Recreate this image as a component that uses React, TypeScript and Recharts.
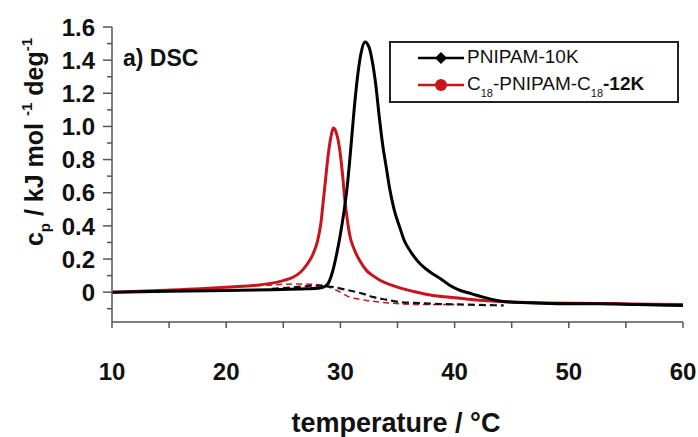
import React from 'react';
import { LineChart, Line, XAxis, YAxis, Legend } from 'recharts';

// PNIPAM-10K (solid black)
const blackT = [10, 15, 20, 24, 27, 28.2, 28.5, 28.9, 29.3, 29.7, 30.0, 30.3, 30.6, 30.9, 31.2, 31.5, 31.8, 32.15, 32.5, 32.8, 33.1, 33.4, 33.7, 34.0, 34.3, 34.7, 35.2, 35.6, 36.1, 36.5, 37.0, 37.5, 38.1, 38.8, 39.6, 40.5, 41.5, 42.5, 43.7, 44.9, 47, 50, 52.7, 56, 60];
const blackV = [0, 0.005, 0.01, 0.015, 0.02, 0.025, 0.03, 0.05, 0.12, 0.24, 0.35, 0.48, 0.64, 0.86, 1.1, 1.3, 1.44, 1.51, 1.48, 1.39, 1.25, 1.06, 0.89, 0.76, 0.63, 0.5, 0.39, 0.31, 0.25, 0.21, 0.17, 0.14, 0.11, 0.08, 0.04, 0.01, -0.01, -0.03, -0.05, -0.06, -0.065, -0.07, -0.07, -0.075, -0.08];

// C18-PNIPAM-C18-12K (solid red)
const redT = [10, 14, 17.7, 20, 23.6, 25, 25.85, 26.5, 27.1, 27.6, 28.0, 28.3, 28.5, 28.7, 28.9, 29.15, 29.4, 29.65, 29.96, 30.2, 30.4, 30.6, 30.8, 31.2, 31.7, 32.3, 32.85, 33.5, 34.6, 35.5, 36.7, 38.1, 39.6, 42.5, 45, 48, 54.2, 60];
const redV = [0, 0.01, 0.02, 0.03, 0.05, 0.07, 0.09, 0.12, 0.17, 0.23, 0.31, 0.42, 0.55, 0.68, 0.81, 0.93, 0.99, 0.96, 0.85, 0.7, 0.55, 0.44, 0.35, 0.26, 0.19, 0.13, 0.1, 0.07, 0.04, 0.02, 0.0, -0.02, -0.03, -0.05, -0.06, -0.065, -0.07, -0.075];

// baselines (dashed)
const blackBaseT = [24, 26, 28.0, 29.4, 30.8, 32.0, 32.9, 34, 35.2, 36.5, 38.1, 41, 44.3];
const blackBaseV = [0.02, 0.03, 0.04, 0.03, 0.01, -0.01, -0.03, -0.045, -0.06, -0.065, -0.07, -0.075, -0.08];
const redBaseT = [20, 23, 26.3, 28, 29, 30, 30.8, 31.5, 32.3, 33.5, 35.2, 37, 40];
const redBaseV = [0.03, 0.04, 0.05, 0.045, 0.03, 0.0, -0.03, -0.04, -0.05, -0.06, -0.07, -0.075, -0.075];

const xTicks = [10, 15, 20, 25, 30, 35, 40, 45, 50, 55, 60];
const yTicks = [-0.1, 0, 0.1, 0.2, 0.3, 0.4, 0.5, 0.6, 0.7, 0.8, 0.9, 1.0, 1.1, 1.2, 1.3, 1.4, 1.5, 1.6];

const zip = (t: number[], v: number[]) => t.map((x, i) => ({ t: x, v: v[i] }));
const blackData = zip(blackT, blackV);
const redData = zip(redT, redV);
const blackBase = zip(blackBaseT, blackBaseV);
const redBase = zip(redBaseT, redBaseV);

const FONT = '"Liberation Sans", Arial, Helvetica, sans-serif';
const AXIS = '#555';
const RED = '#c8141b';

const XTick = (props: any) => {
  const { x, y, payload } = props;
  const v = payload.value;
  const major = Math.round(v) % 10 === 0;
  return (
    <g>
      <line x1={x} x2={x} y1={y} y2={y + 6} stroke={AXIS} strokeWidth={1.5} />
      {major && (
        <text x={x} y={380} textAnchor="middle" fontFamily={FONT} fontWeight="bold" fontSize={24} fill="#111">
          {v}
        </text>
      )}
    </g>
  );
};

const YTick = (props: any) => {
  const { x, y, payload } = props;
  const v = payload.value;
  const k = Math.round(v * 10);
  const major = k >= 0 && k % 2 === 0;
  const label = k === 0 ? '0' : v.toFixed(1);
  return (
    <g>
      <line x1={x} x2={x - (major ? 9 : 5)} y1={y} y2={y} stroke={AXIS} strokeWidth={1.5} />
      {major && (
        <text x={x - 17} y={y} dy="0.36em" textAnchor="end" fontFamily={FONT} fontWeight="bold" fontSize={24} fill="#111">
          {label}
        </text>
      )}
    </g>
  );
};

const LegendBox = () => (
  <div
    style={{
      width: 290,
      height: 62,
      border: '2px solid #222',
      background: '#fff',
      boxSizing: 'border-box',
      position: 'relative',
      fontFamily: FONT,
      color: '#111',
    }}
  >
    <svg width={80} height={62} style={{ position: 'absolute', left: 0, top: 0 }}>
      <line x1={27} x2={73} y1={15} y2={15} stroke="#000" strokeWidth={2.5} />
      <path d="M50 9 L56 15 L50 21 L44 15 Z" fill="#000" />
      <line x1={27} x2={73} y1={42} y2={42} stroke={RED} strokeWidth={2.5} />
      <circle cx={50} cy={42} r={6} fill={RED} />
    </svg>
    <div style={{ position: 'absolute', left: 76, top: 3, fontSize: 19, lineHeight: '22px', whiteSpace: 'nowrap' }}>
      PNIPAM-10K
    </div>
    <div style={{ position: 'absolute', left: 76, top: 30, fontSize: 19, lineHeight: '22px', whiteSpace: 'nowrap' }}>
      C<sub style={{ fontSize: 11, verticalAlign: -7 }}>18</sub>-PNIPAM-C
      <sub style={{ fontSize: 11, verticalAlign: -7 }}>18</sub>
      <b>-12K</b>
    </div>
  </div>
);

export default function App() {
  return (
    <div style={{ position: 'absolute', left: 0, top: 0, background: '#fff' }}>
      <LineChart width={698} height={437} margin={{ top: 27, right: 15, left: 52, bottom: 55 }}>
        <XAxis
          dataKey="t"
          type="number"
          domain={[10, 60]}
          ticks={xTicks}
          allowDataOverflow
          height={60}
          tickSize={0}
          tickMargin={0}
          tickLine={false}
          tick={<XTick />}
          axisLine={{ stroke: AXIS, strokeWidth: 1.5 }}
          interval={0}
        />
        <XAxis xAxisId="top" orientation="top" dataKey="t" type="number" domain={[10, 60]} height={0} tick={false} tickLine={false} axisLine={{ stroke: AXIS, strokeWidth: 1.5 }} />
        <YAxis
          type="number"
          domain={[-0.18, 1.6]}
          ticks={yTicks}
          allowDataOverflow
          width={60}
          tickSize={0}
          tickMargin={0}
          tickLine={false}
          tick={<YTick />}
          axisLine={{ stroke: AXIS, strokeWidth: 1.5 }}
          interval={0}
        />
        <YAxis yAxisId="right" orientation="right" domain={[-0.18, 1.6]} width={0} tick={false} tickLine={false} axisLine={{ stroke: AXIS, strokeWidth: 1.5 }} />
        <Legend
          layout="horizontal"
          verticalAlign="middle"
          align="center"
          content={() => <LegendBox />}
          wrapperStyle={{ left: 389, top: 41, width: 294, height: 64 }}
        />
        <Line data={redBase} dataKey="v" type="monotone" stroke={RED} strokeWidth={1.5} strokeDasharray="6 4" dot={false} isAnimationActive={false} legendType="none" />
        <Line data={blackBase} dataKey="v" type="monotone" stroke="#111" strokeWidth={2.2} strokeDasharray="7 4" dot={false} isAnimationActive={false} legendType="none" />
        <Line data={redData} dataKey="v" name="C18-PNIPAM-C18-12K" type="monotone" stroke={RED} strokeWidth={3} dot={false} isAnimationActive={false} />
        <Line data={blackData} dataKey="v" name="PNIPAM-10K" type="monotone" stroke="#000" strokeWidth={3} dot={false} isAnimationActive={false} />
        <text x={123} y={66} fontFamily={FONT} fontWeight="bold" fontSize={23} fill="#111">a) DSC</text>
        <text transform="translate(43,142) rotate(-90)" textAnchor="middle" fontFamily={FONT} fontWeight="bold" fontSize={25} fill="#111">
          c<tspan fontSize={15} dy={7}>p</tspan>
          <tspan dy={-7}> / kJ mol </tspan>
          <tspan fontSize={15} dy={-11}>-1</tspan>
          <tspan dy={11}> deg</tspan>
          <tspan fontSize={15} dy={-11}>-1</tspan>
        </text>
        <text x={396} y={432} textAnchor="middle" fontFamily={FONT} fontWeight="bold" fontSize={27} fill="#111">
          temperature / °C
        </text>
      </LineChart>
    </div>
  );
}
